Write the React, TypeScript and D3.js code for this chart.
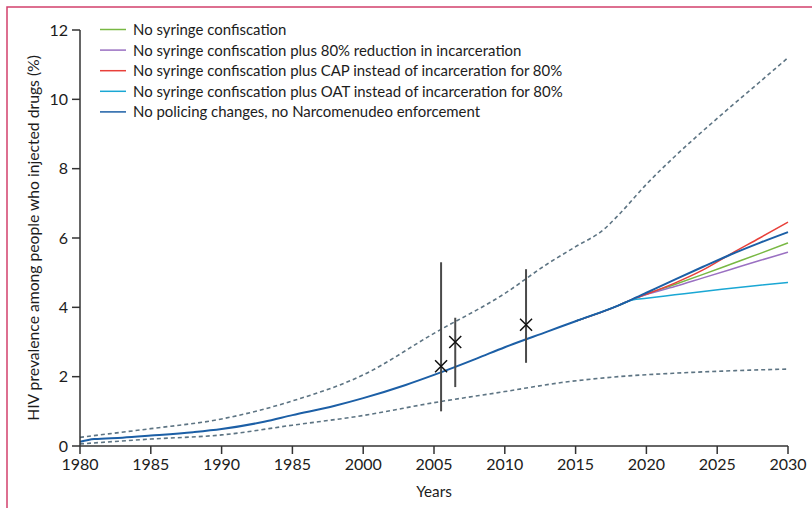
import { useEffect } from 'react';
import * as d3 from 'd3';

// model output (HIV prevalence %, by year)
const baseYears = [1980, 1981, 1983, 1985, 1988, 1990, 1993, 1995, 1998, 2000, 2003, 2005, 2008, 2010, 2013, 2015, 2018, 2019, 2020, 2022, 2024, 2026, 2028, 2030];
const baseValues = [0.12, 0.2, 0.24, 0.3, 0.4, 0.49, 0.7, 0.89, 1.16, 1.38, 1.76, 2.05, 2.52, 2.85, 3.3, 3.6, 4.05, 4.23, 4.42, 4.8, 5.17, 5.53, 5.86, 6.17];

const scenarioYears = [2019, 2020, 2022, 2024, 2026, 2028, 2030];
const noConfiscation = [4.23, 4.38, 4.66, 4.95, 5.25, 5.55, 5.86];
const reducedIncarceration = [4.23, 4.37, 4.6, 4.85, 5.1, 5.35, 5.59];
const capInstead = [4.23, 4.38, 4.7, 5.08, 5.55, 6.0, 6.46];
const oatInstead = [4.21, 4.26, 4.36, 4.46, 4.55, 4.64, 4.72];

const upperYears = [1980, 1982, 1985, 1990, 1995, 2000, 2005, 2010, 2013, 2015, 2017, 2018, 2020, 2022, 2025, 2028, 2030];
const upperValues = [0.25, 0.35, 0.5, 0.78, 1.3, 2.05, 3.25, 4.4, 5.25, 5.75, 6.25, 6.65, 7.55, 8.35, 9.45, 10.5, 11.2];
const lowerYears = [1980, 1985, 1990, 1995, 2000, 2005, 2010, 2014, 2018, 2022, 2026, 2030];
const lowerValues = [0.06, 0.2, 0.32, 0.6, 0.88, 1.25, 1.57, 1.83, 2.0, 2.1, 2.17, 2.22];

// observed estimates with ranges
const obsYears = [2005.5, 2006.5, 2011.5];
const obsValues = [2.3, 3.0, 3.5];
const obsLow = [1.0, 1.7, 2.4];
const obsHigh = [5.3, 3.7, 5.1];

const xTicks = [1980, 1985, 1990, 1995, 2000, 2005, 2010, 2015, 2020, 2025, 2030];
const xTickLabels = ['1980', '1985', '1990', '1985', '2000', '2005', '2010', '2015', '2020', '2025', '2030'];
const yTicks = [0, 2, 4, 6, 8, 10, 12];

const legendLabels = [
  'No syringe confiscation',
  'No syringe confiscation plus 80% reduction in incarceration',
  'No syringe confiscation plus CAP instead of incarceration for 80%',
  'No syringe confiscation plus OAT instead of incarceration for 80%',
  'No policing changes, no Narcomenudeo enforcement',
];

const COLORS = ['#78b843', '#9a70c2', '#e8403a', '#1aa7d4', '#1c5fa6'];
const DASH = '#5d7483';
const FONT = 'Lato, "Open Sans", sans-serif';
const INK = '#1c1c1c';

const W = 812;
const H = 508;
const M = { top: 30, left: 80, right: 24, bottom: 62 };

type Pt = [number, number];
const zip = (xs: number[], ys: number[]): Pt[] => xs.map((x, i) => [x, ys[i]]);

export default function App() {
  useEffect(() => {
    document.body.style.margin = '0';
  }, []);

  const x = d3.scaleLinear().domain([1980, 2030]).range([M.left, W - M.right]);
  const y = d3.scaleLinear().domain([0, 12]).range([H - M.bottom, M.top]);

  const line = d3
    .line<Pt>()
    .x((d) => x(d[0]))
    .y((d) => y(d[1]))
    .curve(d3.curveMonotoneX);

  const baseLast = baseYears.indexOf(2019);
  const scenarios = [noConfiscation, reducedIncarceration, capInstead, oatInstead];

  return (
    <svg width={W} height={H} style={{ display: 'block', fontFamily: FONT }}>
      <rect x={7} y={7} width={W + 20} height={H + 20} fill="none" stroke="#d2406c" strokeWidth={1.5} />

      {/* dashed uncertainty bounds */}
      <path d={line(zip(upperYears, upperValues)) ?? ''} fill="none" stroke={DASH} strokeWidth={1.6} strokeDasharray="4 3" />
      <path d={line(zip(lowerYears, lowerValues)) ?? ''} fill="none" stroke={DASH} strokeWidth={1.6} strokeDasharray="4 3" />

      {/* scenario projections */}
      {scenarios.map((vals, i) => (
        <path
          key={i}
          d={line([...zip(baseYears.slice(0, baseLast), baseValues.slice(0, baseLast)).slice(-2), ...zip(scenarioYears, vals)]) ?? ''}
          fill="none"
          stroke={COLORS[i]}
          strokeWidth={1.5}
        />
      ))}
      <path d={line(zip(baseYears, baseValues)) ?? ''} fill="none" stroke={COLORS[4]} strokeWidth={2} />

      {/* observed data */}
      {obsYears.map((yr, i) => (
        <g key={yr}>
          <line x1={x(yr)} x2={x(yr)} y1={y(obsLow[i])} y2={y(obsHigh[i])} stroke="#4a4a4a" strokeWidth={2} />
          <path
            d={`M${x(yr) - 6},${y(obsValues[i]) - 6}L${x(yr) + 6},${y(obsValues[i]) + 6}M${x(yr) - 6},${y(obsValues[i]) + 6}L${x(yr) + 6},${y(obsValues[i]) - 6}`}
            stroke="#111"
            strokeWidth={1.5}
            fill="none"
          />
        </g>
      ))}

      {/* axes */}
      <line x1={x(1980)} x2={x(2030)} y1={y(0)} y2={y(0)} stroke="#333" strokeWidth={1.5} />
      <line x1={x(1980)} x2={x(1980)} y1={y(0)} y2={y(12)} stroke="#333" strokeWidth={1.5} />
      {xTicks.map((t, i) => (
        <g key={t}>
          <line x1={x(t)} x2={x(t)} y1={y(0)} y2={y(0) + 8} stroke="#333" strokeWidth={1.5} />
          <text x={x(t)} y={y(0) + 24} textAnchor="middle" fontSize={16} fill={INK}>
            {xTickLabels[i]}
          </text>
        </g>
      ))}
      {yTicks.map((t) => (
        <g key={t}>
          <line x1={x(1980) - 8} x2={x(1980)} y1={y(t)} y2={y(t)} stroke="#333" strokeWidth={1.5} />
          <text x={x(1980) - 12} y={y(t) + 5.5} textAnchor="end" fontSize={16} fill={INK}>
            {t}
          </text>
        </g>
      ))}
      <text x={(x(1980) + x(2030)) / 2} y={497} textAnchor="middle" fontSize={15.3} fill={INK}>
        Years
      </text>
      <text transform={`translate(38.5,${(y(0) + y(12)) / 2}) rotate(-90)`} textAnchor="middle" fontSize={15.7} fill={INK}>
        HIV prevalence among people who injected drugs (%)
      </text>

      {/* legend */}
      {legendLabels.map((label, i) => {
        const ly = 29.5 + i * 20.6;
        return (
          <g key={label}>
            <line x1={100} x2={126} y1={ly} y2={ly} stroke={COLORS[i]} strokeWidth={1.5} />
            <text x={133} y={ly + 5.5} fontSize={14.95} fill={INK}>
              {label}
            </text>
          </g>
        );
      })}
    </svg>
  );
}
